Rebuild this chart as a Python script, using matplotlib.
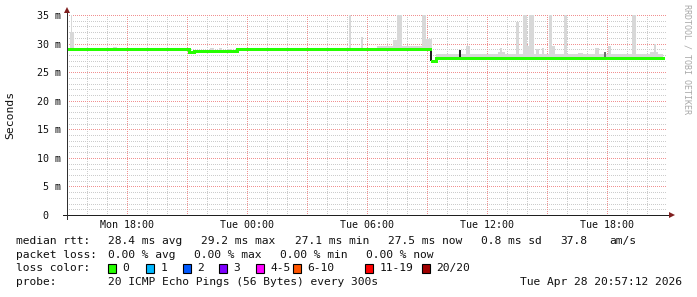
import matplotlib
matplotlib.use('Agg')
import matplotlib.pyplot as plt
import numpy as np
from matplotlib.patches import Rectangle
from matplotlib.ticker import FixedLocator, FuncFormatter

W, H = 697, 297
MONO = ['DejaVu Sans Mono']

# time axis: hours since Mon 00:00
t_start, t_end = 15.0, 45.0

# median rtt (ms), step changes; NaN = gap drawn by the dark smoke
median_t = [15.0, 21.1, 21.35, 23.5, 33.15, 33.25, 33.45, 44.8]
median_ms = [29.0, 28.6, 28.7, 29.0, np.nan, 27.0, 27.4, 27.4]

# light smoke: intervals (hours) and top value (ms), above 35 = clipped
smoke_t0 = [15.15, 15.2, 17.3, 22.15, 22.6, 23.05, 29.1, 29.7, 30.5, 31.3,
            31.5, 31.75, 32.75, 32.95, 33.45, 34.95, 36.55, 36.65, 37.45,
            37.8, 38.0, 38.1, 38.45, 38.75, 39.1, 39.25, 39.85, 40.55, 41.4,
            42.05, 43.25, 44.15, 44.35]
smoke_t1 = [15.35, 15.25, 17.5, 22.35, 22.75, 23.25, 29.2, 29.8, 31.3, 31.5,
            31.75, 32.75, 32.95, 33.25, 44.8, 35.15, 36.9, 36.75, 37.6,
            38.0, 38.1, 38.35, 38.6, 38.85, 39.25, 39.4, 40.0, 40.8, 41.6,
            42.2, 43.45, 44.55, 44.45]
smoke_top = [32.1, 36, 29.4, 29.2, 29.2, 29.1, 36, 31.2, 29.6, 30.6,
             36, 29.5, 36, 30.8, 28.1, 29.6, 28.6, 29.3, 33.8,
             36, 29.5, 36, 29.05, 29.3, 36, 29.5, 36, 28.4, 29.2,
             29.6, 36, 28.5, 29.9]

# dark smoke
dark_t0 = [33.15, 34.6, 41.85]
dark_t1 = [33.25, 34.7, 41.95]
dark_lo = [27.0, 27.4, 27.4]
dark_hi = [29.0, 28.9, 28.6]
dark_col = ['#202020', '#202020', '#707070']

loss_labels = ['0', '1', '2', '3', '4-5', '6-10', '11-19', '20/20']
loss_colors = ['#26ff00', '#00b8ff', '#0059ff', '#7e00ff', '#ff00ff',
               '#ff5500', '#ff0000', '#a00000']
loss_box_x = [108, 146, 183, 219, 256, 293, 365, 422]

# legend rows: (text, x pixel)
rtt_items = [('median rtt:', 16), ('28.4 ms avg', 108.5), ('29.2 ms max', 201),
             ('27.1 ms min', 294.6), ('27.5 ms now', 388.4),
             ('0.8 ms sd', 481), ('37.8', 560), ('am/s', 609)]
loss_items = [('packet loss:', 16), ('0.00 % avg', 108.5),
              ('0.00 % max', 194.2), ('0.00 % min', 280.4),
              ('0.00 % now', 366)]
probe_items = [('probe:', 16),
               ('20 ICMP Echo Pings (56 Bytes) every 300s', 108.5)]
stamp_txt = 'Tue Apr 28 20:57:12 2026'

x_major = [18, 21, 24, 27, 30, 33, 36, 39, 42]
y_major = [5, 10, 15, 20, 25, 30, 35]
x_minor = [h for h in range(16, 45) if h % 3]
y_minor = [m for m in range(1, 35) if m % 5]


def med_at(t):
    i = np.searchsorted(median_t, t, side='right') - 1
    v = median_ms[max(i, 0)]
    return 27.0 if np.isnan(v) else v


fig = plt.figure(figsize=(W / 100, H / 100), dpi=100)
fig.patch.set_facecolor('white')
ax = fig.add_axes([67 / W, 1 - 215 / H, 600 / W, 200 / H])
ax.set_facecolor('white')
ax.set_xlim(t_start, t_end)
ax.set_ylim(0, 35)

# grid, rrdtool-like 1px dots
dots = (0.5, (1, 1))
ax.xaxis.set_major_locator(FixedLocator(x_major))
ax.yaxis.set_major_locator(FixedLocator([0] + y_major))
for xv in x_minor:
    ax.axvline(xv, color='#cccccc', linestyle=dots, linewidth=0.72, zorder=0.8)
for yv in y_minor:
    ax.axhline(yv, color='#cccccc', linestyle=dots, linewidth=0.72, zorder=0.8)
for xv in x_major:
    ax.axvline(xv, color='#f09090', linestyle=dots, linewidth=0.72, zorder=1)
for yv in y_major:
    ax.axhline(yv, color='#f09090', linestyle=dots, linewidth=0.72, zorder=1)


def xfmt(v, pos):
    if v % 6:
        return ''
    day = 'Mon' if v < 24 else 'Tue'
    return f'{day} {int(v) % 24:02d}:00'


def yfmt(v, pos):
    return '0  ' if v == 0 else f'{int(v)} m'


ax.xaxis.set_major_formatter(FuncFormatter(xfmt))
ax.yaxis.set_major_formatter(FuncFormatter(yfmt))
ax.tick_params(which='both', length=0)
ax.tick_params(axis='x', pad=3.5, labelsize=7.2, labelcolor='#101010')
ax.tick_params(axis='y', pad=4.3, labelsize=7.2, labelcolor='#101010')
for lab in ax.get_xticklabels() + ax.get_yticklabels():
    lab.set_family(MONO)
for s in ax.spines.values():
    s.set_visible(False)

# smoke
lo = [med_at(a) - 0.2 for a in smoke_t0]
ax.bar(smoke_t0, np.array(smoke_top) - np.array(lo),
       width=np.array(smoke_t1) - np.array(smoke_t0), bottom=lo,
       align='edge', color='#d8d8d8', linewidth=0, zorder=2)
ax.bar(dark_t0, np.array(dark_hi) - np.array(dark_lo),
       width=np.array(dark_t1) - np.array(dark_t0), bottom=dark_lo,
       align='edge', color=dark_col, linewidth=0, zorder=3)

# median line
ax.step(median_t, median_ms, where='post', color=loss_colors[0],
        linewidth=2.16, solid_joinstyle='miter', zorder=4)

# axes with arrows
ax.plot([-0.007, 1.007], [0, 0], transform=ax.transAxes, color='#1f1f1f',
        lw=0.72, clip_on=False, zorder=5)
ax.plot([0, 0], [-0.02, 1.025], transform=ax.transAxes, color='#303030',
        lw=0.72, clip_on=False, zorder=5)
ax.plot([1.008], [0], marker='>', ms=4.5, color='#801f1f', mew=0,
        transform=ax.transAxes, clip_on=False, zorder=6)
ax.plot([0], [1.025], marker='^', ms=4.5, color='#801f1f', mew=0,
        transform=ax.transAxes, clip_on=False, zorder=6)

# texts
fig.text(10 / W, 1 - 115 / H, 'Seconds', rotation=90, family=MONO,
         fontsize=8.2, ha='center', va='center', color='#101010')
fig.text(687 / W, 1 - 4 / H, 'RRDTOOL / TOBI OETIKER', rotation=270,
         family=MONO, fontsize=6, ha='center', va='top', color='#a8a8a8')

fs = 8.1
for row, ypix in [(rtt_items, 241), (loss_items, 255), (probe_items, 282)]:
    for txt, xpix in row:
        fig.text(xpix / W, 1 - ypix / H, txt, family=MONO, fontsize=fs,
                 va='center', color='#101010')
fig.text(16 / W, 1 - 268 / H, 'loss color:', family=MONO, fontsize=fs,
         va='center', color='#101010')
for bx, lab, col in zip(loss_box_x, loss_labels, loss_colors):
    fig.add_artist(Rectangle((bx / W, 1 - 272.5 / H), 8 / W, 9 / H,
                             transform=fig.transFigure, facecolor=col,
                             edgecolor='black', linewidth=0.8))
    fig.text((bx + 14.5) / W, 1 - 268 / H, lab, family=MONO, fontsize=fs,
             va='center', color='#101010')
fig.text(682 / W, 1 - 282 / H, stamp_txt, family=MONO, fontsize=fs,
         va='center', ha='right', color='#101010')

fig.savefig('out.png', dpi=100)
